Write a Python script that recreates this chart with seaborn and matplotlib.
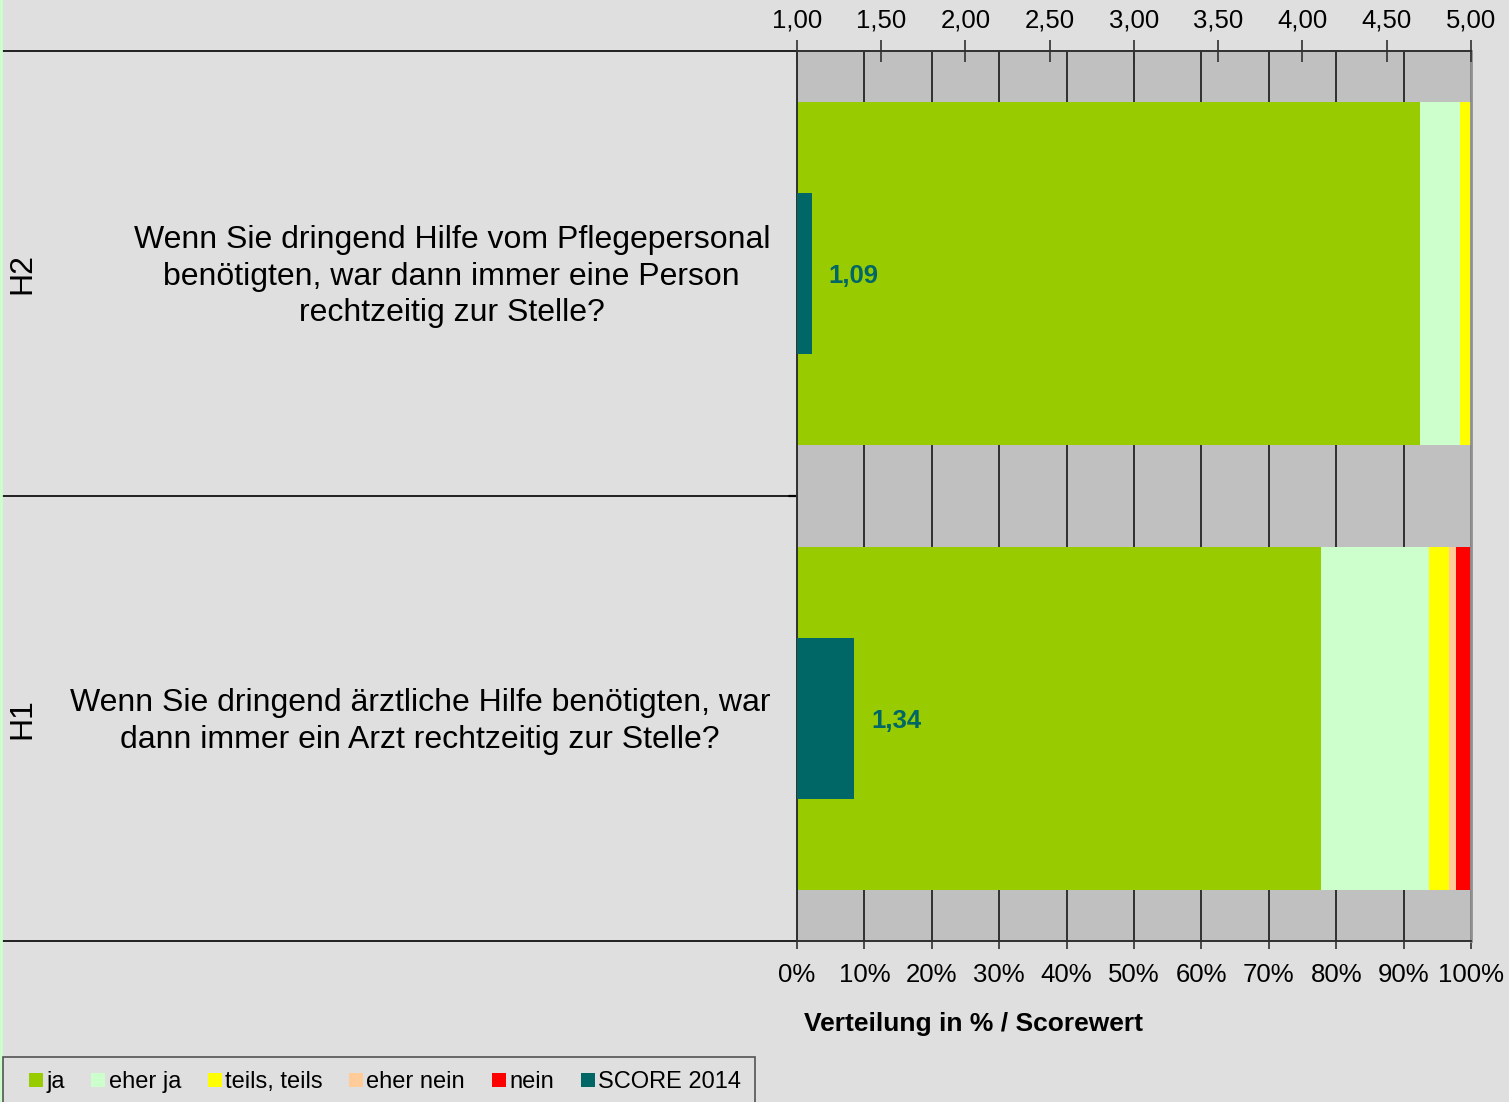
import matplotlib
matplotlib.use("Agg")
import matplotlib.pyplot as plt
from matplotlib.lines import Line2D
from matplotlib.ticker import FuncFormatter, MultipleLocator
import pandas as pd
import seaborn as sns

# data
codes = ["H2", "H1"]
questions = ["Wenn Sie dringend Hilfe vom Pflegepersonal\nbenötigten, war dann immer eine Person\nrechtzeitig zur Stelle?",
             "Wenn Sie dringend ärztliche Hilfe benötigten, war\ndann immer ein Arzt rechtzeitig zur Stelle?"]
ja = [92.4, 77.7]
eherJa = [6.0, 16.0]
teils = [1.6, 3.1]
eherNein = [0.0, 1.0]
nein = [0.0, 2.2]
score = [1.09, 1.34]

answerLabels = ["ja", "eher ja", "teils, teils", "eher nein", "nein"]
answerColors = ["#99CC00", "#CCFFCC", "#FFFF00", "#FFCC99", "#FF0000"]
scoreColor = "#006666"
bgColor = "#DFDFDF"

sns.set_theme(style="white", rc={"text.color": "black", "axes.labelcolor": "black"})
plt.rcParams["font.family"] = ["Liberation Sans", "DejaVu Sans"]

df = pd.DataFrame({"code": codes, "ja": ja, "eher ja": eherJa, "teils, teils": teils,
                   "eher nein": eherNein, "nein": nein, "score": score})
cum = df[answerLabels].cumsum(axis=1)

fig = plt.figure(figsize=(15.09, 11.02), dpi=100, facecolor=bgColor)
ax = fig.add_axes([797 / 1509, 161 / 1102, 674 / 1509, 890 / 1102])
ax.set_facecolor("#C0C0C0")

# stacked bars: draw cumulative sums from the largest down
for label, color in reversed(list(zip(answerLabels, answerColors))):
    sns.barplot(x=cum[label], y=df["code"], order=codes, color=color, width=0.77,
                orient="h", linewidth=0, saturation=1, ax=ax)

ax.set_xlim(0, 100)
ax.set_ylim(1.5, -0.5)
ax.xaxis.set_major_locator(MultipleLocator(10))
ax.xaxis.set_major_formatter(FuncFormatter(lambda v, p: f"{int(round(v))}%"))
ax.set_axisbelow(True)
ax.grid(axis="x", color="#303030", linewidth=1.4)
ax.grid(axis="y", visible=False)
ax.set_yticks([])
ax.set_ylabel("")
ax.set_xlabel("")
ax.tick_params(axis="x", bottom=True, direction="out", length=6, width=1.2, color="#303030",
               labelsize=18.5, pad=10, labelcolor="black")
for s in ["left", "bottom", "top"]:
    ax.spines[s].set_color("#303030")
    ax.spines[s].set_linewidth(1.4)
ax.spines["right"].set_color("#909090")
ax.spines["right"].set_linewidth(2)

# score bars on the secondary top axis
ax2 = ax.twiny()
sns.barplot(x=df["score"], y=df["code"], order=codes, color=scoreColor, width=0.36,
            orient="h", linewidth=0, saturation=1, ax=ax2)
ax2.set_xlim(1, 5)
ax2.set_ylim(1.5, -0.5)
ax2.xaxis.set_major_locator(MultipleLocator(0.5))
ax2.xaxis.set_major_formatter(FuncFormatter(lambda v, p: f"{v:.2f}".replace(".", ",")))
ax2.xaxis.set_ticks_position("top")
ax2.xaxis.set_label_position("top")
ax2.tick_params(axis="x", top=True, direction="inout", length=16, width=1.2, color="#303030",
                labelsize=18.5, pad=5, labelcolor="black")
ax2.set_xlabel("")
ax2.set_ylabel("")
ax2.set_yticks([])
for s in ax2.spines.values():
    s.set_visible(False)
for i, v in enumerate(score):
    ax2.annotate(f"{v:.2f}".replace(".", ","), (v, i), xytext=(12, -2), textcoords="offset points",
                 ha="left", va="center", fontsize=18.5, fontweight="bold", color=scoreColor)

# category labels and separators on the left
yt = ax.get_yaxis_transform()
for i, (c, q) in enumerate(zip(codes, questions)):
    ax.text(-1.15, i, c, transform=yt, rotation=90, ha="center", va="center", fontsize=23,
            color="black")
    ax.text(-0.04, i + 0.007, q, transform=yt, ha="right", va="center", multialignment="center",
            fontsize=23, linespacing=1.29, color="black")
for yv in [-0.5, 0.5, 1.5]:
    ax.plot([-1.18, 0], [yv, yv], transform=yt, color="black", linewidth=1.2, clip_on=False)
ax.plot([-0.012, 0], [0.5, 0.5], transform=yt, color="black", linewidth=1.6, clip_on=False)

ax.text(0.01, -0.08, "Verteilung in % / Scorewert", transform=ax.transAxes, ha="left", va="top",
        fontsize=19, fontweight="bold", color="black")

handles = [Line2D([], [], linestyle="none", marker="s", markersize=10, markeredgewidth=0,
                  color=c, label=l) for l, c in zip(answerLabels, answerColors)]
handles.append(Line2D([], [], linestyle="none", marker="s", markersize=10, markeredgewidth=0,
                      color=scoreColor, label="SCORE 2014"))
leg = fig.legend(handles=handles, loc="upper left", bbox_to_anchor=(3 / 1509, 1 - 1057 / 1102),
                 ncol=6, fontsize=17, frameon=True, fancybox=False, handlelength=1.6,
                 handletextpad=-0.37, columnspacing=0.63, borderpad=0.6, borderaxespad=0)
leg.get_frame().set_facecolor(bgColor)
leg.get_frame().set_edgecolor("#303030")
leg.get_frame().set_linewidth(1.2)
for t in leg.get_texts():
    t.set_color("black")

fig.add_artist(Line2D([1 / 1509, 1 / 1509], [0, 1], color="#CCFFCC", linewidth=2))

fig.savefig("out.png", dpi=100, facecolor=bgColor)
